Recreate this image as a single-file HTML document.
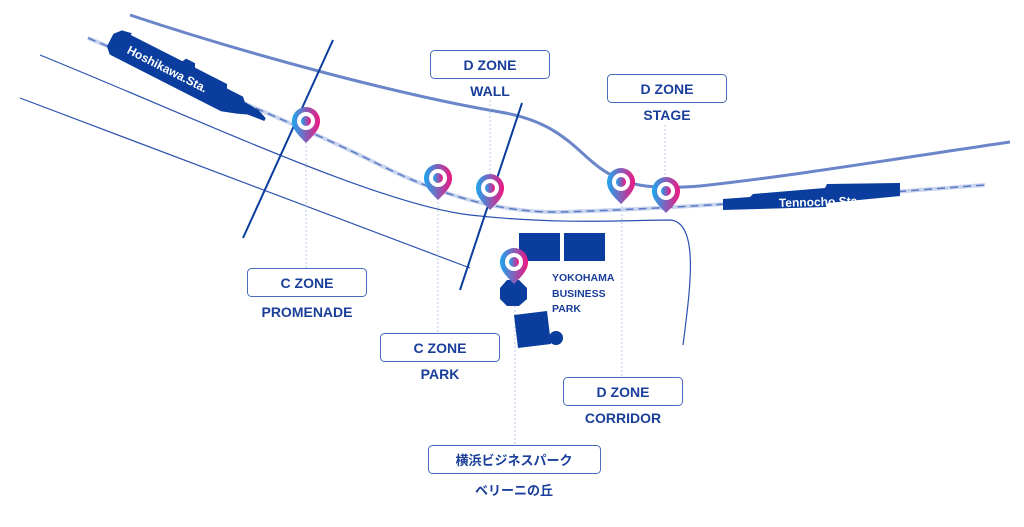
<!DOCTYPE html>
<html><head><meta charset="utf-8"><style>
html,body{margin:0;padding:0;background:#fff;}
svg{display:block}
text{font-family:"Liberation Sans","Noto Sans CJK JP",sans-serif;font-weight:bold;fill:#1a3f9a}
</style></head><body>
<svg width="1024" height="527" viewBox="0 0 1024 527" xmlns="http://www.w3.org/2000/svg">
<defs>
<linearGradient id="g" x1="0" y1="0" x2="1" y2="0"><stop offset="0" stop-color="#1aa8f0"/><stop offset="1" stop-color="#f0157f"/></linearGradient>
<g id="pin"><path d="M0,14 C-8,6 -14,0 -14,-8 A14,14 0 1 1 14,-8 C14,0 8,6 0,14Z" fill="url(#g)"/><circle cx="0" cy="-8" r="9" fill="#fff"/><circle cx="0" cy="-8" r="5" fill="url(#g)"/></g>
</defs>
<path d="M130,15 C250,55 400,95 500,112 C560,122 575,150 600,168 C625,186 650,190 700,186 C800,175 900,158 1010,142" fill="none" stroke="#6b86c8" stroke-width="3"/>
<line x1="20" y1="98" x2="470" y2="268" stroke="#2b52b0" stroke-width="1.2"/>
<path d="M40,55 C200,120 380,205 470,215 C560,225 630,220 670,220 C700,222 690,290 683,345" fill="none" stroke="#2b52b0" stroke-width="1.2"/>
<path d="M88,38 C200,85 300,125 380,165 C440,195 500,213 560,212 C700,208 850,195 985,185" fill="none" stroke="#c9d4ee" stroke-width="4"/>
<path d="M88,38 C200,85 300,125 380,165 C440,195 500,213 560,212 C700,208 850,195 985,185" fill="none" stroke="#5a7ac4" stroke-width="1.5" stroke-dasharray="8,5"/>
<line x1="333" y1="40" x2="243" y2="238" stroke="#0a3d9e" stroke-width="2"/>
<line x1="522" y1="103" x2="460" y2="290" stroke="#0a3d9e" stroke-width="2"/>
<g transform="translate(116,42) rotate(27)">
<polygon points="0,-13 10,-15 10,-13 68,-13 70,-17 80,-17 82,-13 118,-13 120,-9 138,-9 142,-5 158,-4 168,0 168,3 150,5 140,9 125,14 0,14 -6,8 -6,-6" fill="#0a3d9e"/>
<text x="14" y="5" font-size="12" style="fill:#fff">Hoshikawa.Sta.</text>
</g>
<polygon points="723,199 750,197 753,194 825,188 827,184 900,183 900,196 828,203 826,207 723,210" fill="#0a3d9e"/>
<text x="0" y="0" font-size="12" style="fill:#fff" transform="translate(779,207) rotate(-1.5)">Tennocho.Sta.</text>
<g stroke="#b9c7e6" stroke-width="1" stroke-dasharray="2,2">
<line x1="306" y1="142" x2="306" y2="268"/>
<line x1="438" y1="198" x2="438" y2="333"/>
<line x1="490" y1="100" x2="490" y2="178"/>
<line x1="665" y1="125" x2="665" y2="182"/>
<line x1="622" y1="202" x2="622" y2="377"/>
<line x1="515" y1="282" x2="515" y2="445"/>
</g>
<rect x="519" y="233" width="41" height="28" fill="#0a3d9e"/>
<rect x="564" y="233" width="41" height="28" fill="#0a3d9e"/>
<polygon points="507,280 519,280 527,288 527,299 519,306 507,306 500,299 500,288" fill="#0a3d9e"/>
<polygon points="514,315 547,311 551,344 518,348" fill="#0a3d9e"/>
<circle cx="556" cy="338" r="7" fill="#0a3d9e"/>
<text x="552" y="281" font-size="10.5">YOKOHAMA</text>
<text x="552" y="297" font-size="10.5">BUSINESS</text>
<text x="552" y="312" font-size="10.5">PARK</text>
<use href="#pin" x="306" y="129"/>
<use href="#pin" x="438" y="186"/>
<use href="#pin" x="490" y="196"/>
<use href="#pin" x="621" y="190"/>
<use href="#pin" x="666" y="199"/>
<use href="#pin" x="514" y="270"/>
<g fill="#fff" stroke="#4a6bbf" stroke-width="1">
<rect x="247.5" y="268.5" width="119" height="28" rx="4"/>
<rect x="380.5" y="333.5" width="119" height="28" rx="4"/>
<rect x="430.5" y="50.5" width="119" height="28" rx="4"/>
<rect x="607.5" y="74.5" width="119" height="28" rx="4"/>
<rect x="563.5" y="377.5" width="119" height="28" rx="4"/>
<rect x="428.5" y="445.5" width="172" height="28" rx="4"/>
</g>
<g font-size="14" text-anchor="middle">
<text x="307" y="288">C ZONE</text><text x="307" y="317">PROMENADE</text>
<text x="440" y="353">C ZONE</text><text x="440" y="379">PARK</text>
<text x="490" y="70">D ZONE</text><text x="490" y="96">WALL</text>
<text x="667" y="94">D ZONE</text><text x="667" y="120">STAGE</text>
<text x="623" y="397">D ZONE</text><text x="623" y="423">CORRIDOR</text>
<text x="514" y="465" font-size="13" font-weight="normal">横浜ビジネスパーク</text>
<text x="514" y="495" font-size="13" font-weight="normal">ベリーニの丘</text>
</g>
</svg>
</body></html>
